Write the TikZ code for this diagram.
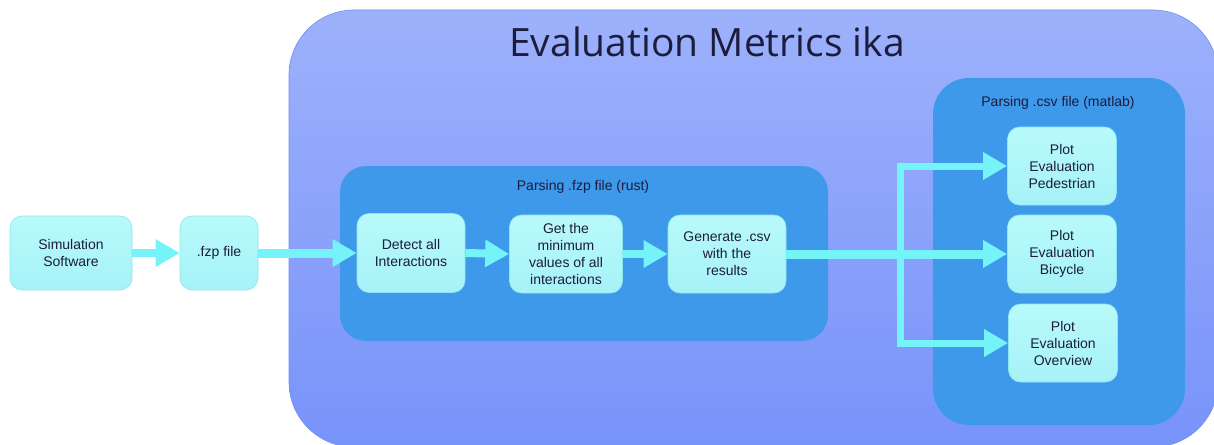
\documentclass[tikz,border=0pt]{standalone}
\usepackage{fontspec}
\setmainfont{Liberation Sans}
\newfontfamily\titlefont{Open Sans}
\usetikzlibrary{arrows.meta}
\definecolor{outertop}{HTML}{9DB1FB}
\definecolor{outerbot}{HTML}{7893FA}
\definecolor{outerline}{HTML}{7290EE}
\definecolor{groupfill}{HTML}{3F99EA}
\definecolor{nodetop}{HTML}{B8FAFA}
\definecolor{nodebot}{HTML}{A6F2F8}
\definecolor{nodeline}{HTML}{8CE6EE}
\definecolor{flowcol}{HTML}{74F4F8}
\definecolor{txt}{HTML}{1C1C3C}
\tikzset{
  stepbox/.style={draw=nodeline, line width=0.6pt, top color=nodetop, bottom color=nodebot,
    rounded corners=12pt, align=center, text=txt, font=\fontsize{14}{17}\selectfont,
    inner sep=0pt},
  grouplabel/.style={text=txt, font=\fontsize{14}{17}\selectfont},
  flow/.style={draw=flowcol, line width=8pt, line join=miter,
    -{Triangle[width=26pt,length=24pt]}},
}
\begin{document}
\begin{tikzpicture}[x=1pt,y=-1pt]
\useasboundingbox (0,0) rectangle (1214,444);
\fill[white] (0,0) rectangle (1214,444);
% outer container
\path[draw=outerline, line width=0.6pt, top color=outertop, bottom color=outerbot, rounded corners=65pt]
  (289,10) rectangle (1218,447);
\node[text=txt, font=\titlefont\fontsize{39}{45}\selectfont, anchor=center] (title) at (707,42) {Evaluation Metrics ika};
% group boxes
\path[fill=groupfill, rounded corners=26pt] (340,166) rectangle (828,341);
\node[grouplabel] (rustlbl) at (583,187) {Parsing .fzp file (rust)};
\path[fill=groupfill, rounded corners=36pt] (933,78) rectangle (1185,425);
\node[grouplabel] (matlbl) at (1058,103) {Parsing .csv file (matlab)};
% nodes
\node[stepbox, minimum width=122pt, minimum height=74pt] (sim) at (71,253) {Simulation\\Software};
\node[stepbox, minimum width=78pt, minimum height=74pt] (fzp) at (219,253) {.fzp file};
\node[stepbox, minimum width=108pt, minimum height=79pt] (det) at (411,253) {Detect all\\Interactions};
\node[stepbox, minimum width=113pt, minimum height=78pt] (get) at (566,254) {Get the\\minimum\\values of all\\interactions};
\node[stepbox, minimum width=118pt, minimum height=78pt] (gen) at (727,254) {Generate .csv\\with the\\results};
\node[stepbox, minimum width=109pt, minimum height=78pt] (ped) at (1062,166) {Plot\\Evaluation\\Pedestrian};
\node[stepbox, minimum width=109pt, minimum height=78pt] (bic) at (1062,254) {Plot\\Evaluation\\Bicycle};
\node[stepbox, minimum width=109pt, minimum height=78pt] (ovw) at (1063,343) {Plot\\Evaluation\\Overview};
\coordinate (fork) at (900,254);
% connectors
\draw[flow] (sim.east) -- (fzp.west);
\draw[flow, line width=9pt] (fzp.east) -- (det.west);
\draw[flow] (det.east) -- (get.west);
\draw[flow] (get.east) -- (gen.west);
\draw[flow, line width=9pt] (gen.east) -- (bic.west);
\draw[flow, line width=7pt, {Triangle[width=26pt,length=24pt]}-{Triangle[width=26pt,length=24pt]}]
  (ped.west) -- (fork |- ped.west) -- (fork |- ovw.west) -- (ovw.west);
\end{tikzpicture}
\end{document}
